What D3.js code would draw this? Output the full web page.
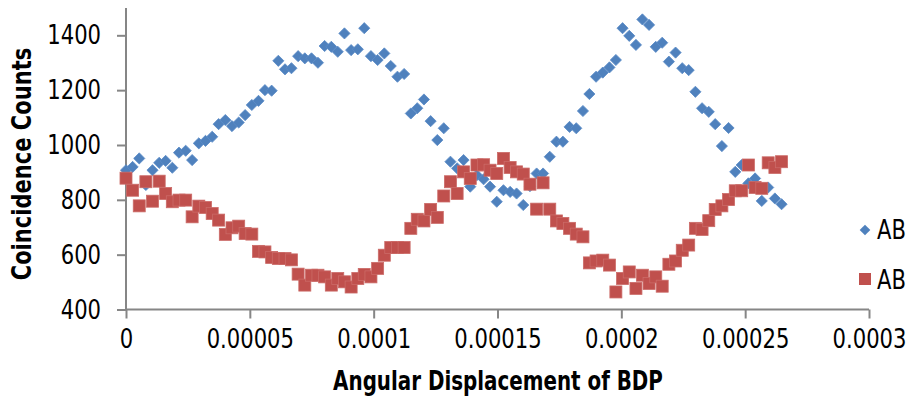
<!DOCTYPE html>
<html>
<head>
<meta charset="utf-8">
<script src="https://cdnjs.cloudflare.com/ajax/libs/d3/7.8.5/d3.min.js"></script>
<style>
  html, body { margin: 0; padding: 0; background: #ffffff; }
  svg text { font-family: "DejaVu Sans Condensed", "Liberation Sans Narrow", sans-serif; fill: #000; }
</style>
</head>
<body>
<div id="chart"></div>
<script>
// angular displacement of each sample, in units of 1e-6
var displacement = [
  0, 2.67, 5.35, 8.02, 10.7, 13.4, 16.0, 18.7, 21.4, 24.1,
  26.7, 29.4, 32.1, 34.8, 37.4, 40.1, 42.8, 45.5, 48.1, 50.8,
  53.5, 56.1, 58.8, 61.5, 64.2, 66.8, 69.5, 72.2, 74.9, 77.5,
  80.2, 82.9, 85.5, 88.2, 90.9, 93.6, 96.2, 98.9, 101.6, 104.3,
  106.9, 109.6, 112.3, 115.0, 117.6, 120.3, 123.0, 125.7, 128.3, 131.0,
  133.7, 136.3, 139.0, 141.7, 144.4, 147.0, 149.7, 152.4, 155.1, 157.7,
  160.4, 163.1, 165.8, 168.4, 171.1, 173.8, 176.4, 179.1, 181.8, 184.5,
  187.1, 189.8, 192.5, 195.2, 197.8, 200.5, 203.2, 205.9, 208.5, 211.2,
  213.9, 216.5, 219.2, 221.9, 224.6, 227.2, 229.9, 232.6, 235.3, 237.9,
  240.6, 243.3, 246.0, 248.6, 251.3, 254.0, 256.7, 259.3, 262.0, 264.7
];
var countsBlue = [
  908, 920, 951, 854, 908, 935, 942, 917, 972, 979,
  945, 1006, 1015, 1030, 1076, 1091, 1069, 1082, 1109, 1146,
  1161, 1200, 1198, 1307, 1276, 1280, 1324, 1316, 1316, 1300,
  1361, 1358, 1340, 1407, 1346, 1349, 1426, 1324, 1310, 1334,
  1288, 1249, 1259, 1115, 1134, 1166, 1087, 1018, 1061, 939,
  915, 945, 848, 890, 875, 848, 793, 835, 829, 823,
  781, 850, 896, 896, 957, 1012, 1012, 1066, 1061, 1124,
  1186, 1249, 1264, 1283, 1310, 1426, 1398, 1365, 1458, 1438,
  1358, 1373, 1304, 1337, 1280, 1273, 1194, 1134, 1121, 1076,
  996, 1062, 902, 927, 860, 878, 796, 845, 805, 784
];
var countsRed = [
  879, 835, 778, 866, 795, 868, 823, 793, 799, 799,
  738, 777, 772, 750, 726, 674, 698, 704, 677, 675,
  612, 610, 590, 586, 586, 581, 529, 489, 525, 525,
  519, 489, 513, 501, 482, 513, 528, 519, 550, 598,
  626, 626, 626, 696, 729, 723, 765, 736, 814, 866,
  823, 902, 878, 927, 928, 908, 896, 951, 918, 902,
  894, 857, 766, 862, 766, 723, 714, 696, 675, 665,
  570, 577, 580, 562, 464, 513, 537, 477, 525, 495,
  519, 485, 565, 577, 616, 635, 696, 692, 724, 765,
  778, 801, 833, 833, 927, 845, 842, 935, 918, 939
];
var xTicks = [0, 0.00005, 0.0001, 0.00015, 0.0002, 0.00025, 0.0003];
var xTickLabels = ["0", "0.00005", "0.0001", "0.00015", "0.0002", "0.00025", "0.0003"];
var yTicks = [400, 600, 800, 1000, 1200, 1400];
var seriesNames = ["AB", "AB"];

var W = 907, H = 401;
var blue = "#4F81BD", red = "#C0504D", axisCol = "#868686";
var narrow = 0.87; // horizontal squeeze, the original font is tall and narrow

var x = d3.scaleLinear().domain([0, 0.0003]).range([126, 869]);
var y = d3.scaleLinear().domain([400, 1500]).range([309.5, 7.9]);

var svg = d3.select("#chart").append("svg")
  .attr("width", W).attr("height", H);

var ptsBlue = displacement.map(function(d, i){ return {x: d * 1e-6, y: countsBlue[i]}; });
var ptsRed = displacement.map(function(d, i){ return {x: d * 1e-6, y: countsRed[i]}; });

// axes
var xAxis = d3.axisBottom(x).tickValues(xTicks).tickSize(9).tickPadding(10)
  .tickFormat(function(d, i){ return xTickLabels[i]; });
var gx = svg.append("g").attr("transform", "translate(0," + y(400) + ")").call(xAxis);

var yAxis = d3.axisLeft(y).tickValues(yTicks).tickSize(9).tickPadding(16)
  .tickFormat(d3.format("d"));
var gy = svg.append("g").attr("transform", "translate(" + x(0) + ",0)").call(yAxis);

[gx, gy].forEach(function(g){
  g.select(".domain").attr("stroke", axisCol).attr("stroke-width", 2);
  g.selectAll(".tick line").attr("stroke", axisCol).attr("stroke-width", 2);
  g.selectAll(".tick text").attr("font-size", 27).attr("fill", "#000")
    .style("font-family", "'DejaVu Sans Condensed', 'Liberation Sans Narrow', sans-serif");
});
gx.selectAll(".tick text").attr("transform", "scale(" + narrow + ",1)");
gy.selectAll(".tick text")
  .attr("x", -25 / narrow)
  .attr("transform", "scale(" + narrow + ",1)");
gy.select(".domain").attr("d", "M0," + y(1500) + "V" + y(400));
gx.select(".domain").attr("d", "M" + x(0) + ",0H" + x(0.0003));

// markers
var diamond = d3.symbol().type(d3.symbolDiamond2).size(72);
svg.append("g").selectAll("path").data(ptsBlue).enter().append("path")
  .attr("d", diamond)
  .attr("transform", function(d){ return "translate(" + x(d.x) + "," + y(d.y) + ") scale(1.05)"; })
  .attr("fill", blue).attr("stroke", "#5B8CC7").attr("stroke-width", 0.8);

var sq = 12;
svg.append("g").selectAll("rect").data(ptsRed).enter().append("rect")
  .attr("x", function(d){ return x(d.x) - sq / 2; })
  .attr("y", function(d){ return y(d.y) - sq / 2; })
  .attr("width", sq).attr("height", sq)
  .attr("fill", red).attr("stroke", "#CB6A67").attr("stroke-width", 0.8);

// titles
svg.append("text").attr("transform", "translate(498,390) scale(0.85,1)").attr("text-anchor", "middle")
  .attr("font-size", 26).attr("font-weight", "bold").text("Angular Displacement of BDP");
svg.append("text").attr("transform", "translate(31,164) rotate(-90) scale(0.9,1)").attr("text-anchor", "middle")
  .attr("font-size", 26).attr("font-weight", "bold").text("Coincidence Counts");

// legend
var leg = svg.append("g");
leg.append("path").attr("d", diamond).attr("transform", "translate(865,230)").attr("fill", blue);
leg.append("rect").attr("x", 859).attr("y", 273).attr("width", 12).attr("height", 12).attr("fill", red);
leg.append("text").attr("transform", "translate(877,239) scale(" + narrow + ",1)").attr("font-size", 27).text(seriesNames[0]);
leg.append("text").attr("transform", "translate(877,289) scale(" + narrow + ",1)").attr("font-size", 27).text(seriesNames[1]);
</script>
</body>
</html>
